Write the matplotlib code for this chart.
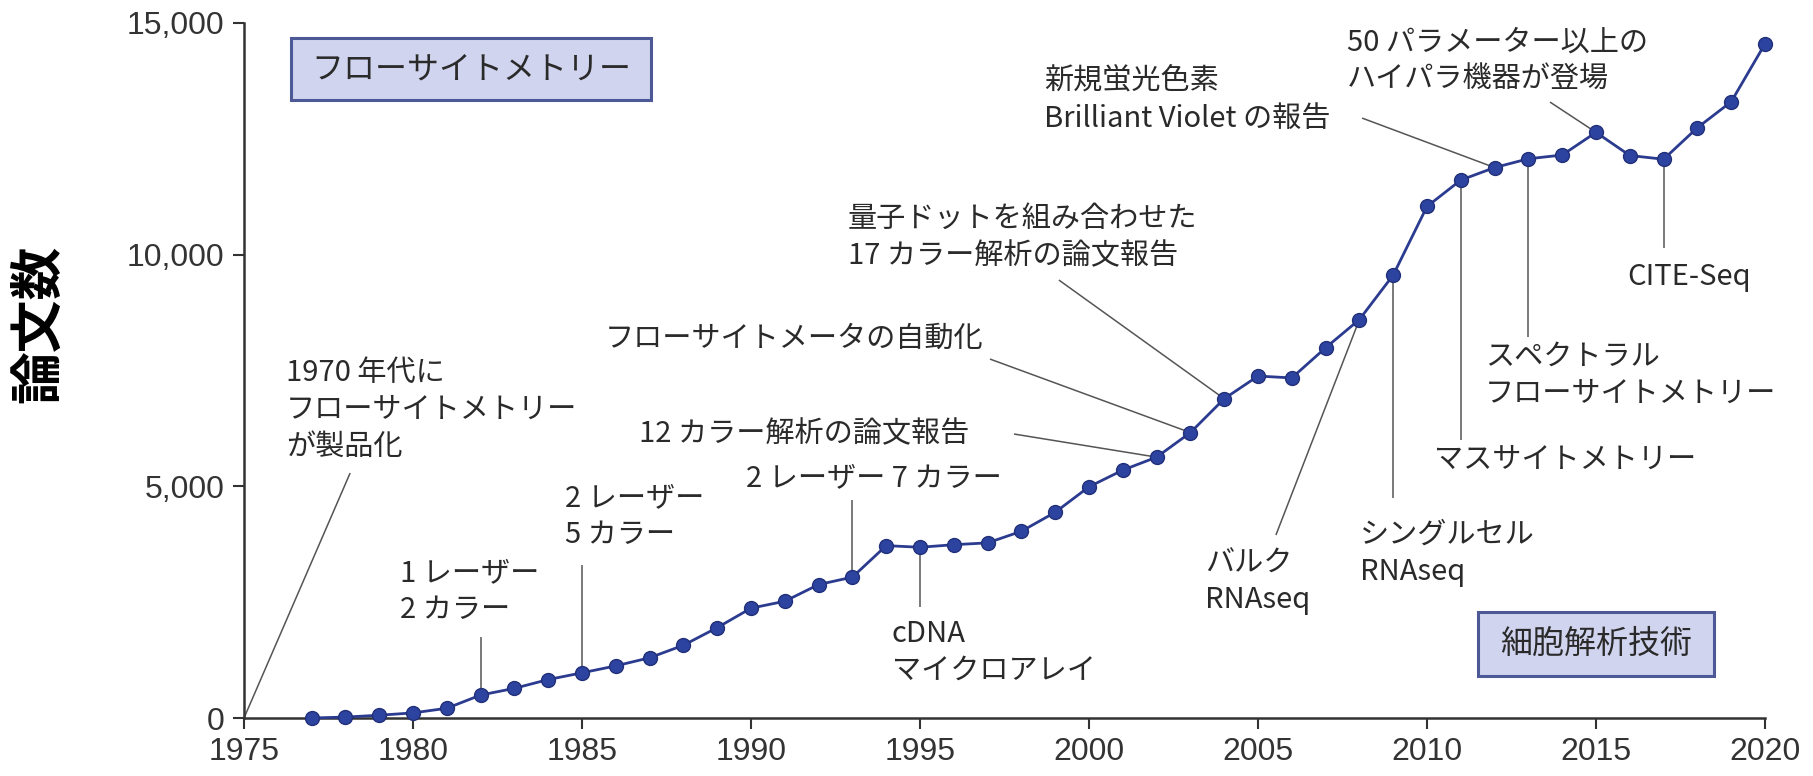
import matplotlib
matplotlib.use("Agg")
import matplotlib.pyplot as plt
from matplotlib import font_manager
from matplotlib.patches import Rectangle

# ---------------- data ----------------
years = list(range(1977, 2021))
papers = [0, 20, 60, 110, 210, 495, 640, 830, 975, 1125,
          1300, 1570, 1950, 2370, 2520, 2880, 3040, 3720, 3685, 3740,
          3780, 4030, 4440, 4990, 5350, 5630, 6160, 6890, 7380, 7340,
          7990, 8600, 9560, 11040, 11610, 11880, 12070, 12150, 12640, 12140,
          12060, 12740, 13300, 14550]

x_ticks = [1975, 1980, 1985, 1990, 1995, 2000, 2005, 2010, 2015, 2020]
y_ticks = [0, 5000, 10000, 15000]
y_tick_labels = ["0", "5,000", "10,000", "15,000"]

y_label = "論文数"
box_labels = ["フローサイトメトリー", "細胞解析技術"]

event_labels = [
    "1970 年代に\nフローサイトメトリー\nが製品化",
    "1 レーザー\n2 カラー",
    "2 レーザー\n5 カラー",
    "2 レーザー 7 カラー",
    "cDNA\nマイクロアレイ",
    "12 カラー解析の論文報告",
    "フローサイトメータの自動化",
    "量子ドットを組み合わせた\n17 カラー解析の論文報告",
    "新規蛍光色素\nBrilliant Violet の報告",
    "50 パラメーター以上の\nハイパラ機器が登場",
    "CITE-Seq",
    "スペクトラル\nフローサイトメトリー",
    "マスサイトメトリー",
    "シングルセル\nRNAseq",
    "バルク\nRNAseq",
]
event_years = [1975, 1982, 1985, 1993, 1995, 2002, 2003, 2004,
               2012, 2015, 2017, 2013, 2011, 2009, 2008]

# ---------------- layout (text anchor, leader-line end) ----------------
text_pos = [
    (1976.24, 6650), (1979.62, 2719), (1984.5, 4338), (1989.85, 5179),
    (1994.17, 1424), (1986.69, 6129), (1985.68, 8179), (1992.87, 10369),
    (1998.67, 13336), (2007.63, 14178), (2015.92, 9517), (2011.72, 7402),
    (2010.21, 5568), (2008.02, 3550), (2003.43, 2935),
]
line_end = [
    (1978.14, 5287), (1982, 1748), (1985, 3302), (1993, 4704),
    (1995, 2395), (1997.78, 6129), (1997.07, 7747), (1999.11, 9452),
    (2008.08, 12948), (2013.64, 13293), (2017, 10143), (2013, 8222),
    (2011, 5999), (2009, 4748), (2005.53, 3949),
]

# ---------------- fonts ----------------
available = {f.name for f in font_manager.fontManager.ttflist}
num_font = "Liberation Sans Narrow" if "Liberation Sans Narrow" in available else "Liberation Sans"
jp_font = ["Noto Sans CJK JP", "DejaVu Sans"]

line_color = "#2b3b8f"
text_color = "#2a2a2a"
axis_color = "#333333"
leader_color = "#555555"

fig = plt.figure(figsize=(18.13, 7.76), dpi=100)
fig.patch.set_facecolor("white")
ax = fig.add_axes([244 / 1813, 58 / 776, 1521 / 1813, 695 / 776])
ax.set_facecolor("white")

# leader lines
for (ey, (ex2, ev2)) in zip(event_years, line_end):
    ev = 0 if ey < years[0] else papers[years.index(ey)]
    ax.plot([ey, ex2], [ev, ev2], color=leader_color, lw=1.1, zorder=2,
            solid_capstyle="butt", clip_on=False)

# main series
ax.plot(years, papers, color=line_color, lw=2.0, marker="o", ms=10,
        markerfacecolor="#2c43a0", markeredgecolor="#22307a", markeredgewidth=1.0,
        zorder=3, clip_on=False)

# event labels
for lab, (tx, tv) in zip(event_labels, text_pos):
    ax.text(tx, tv, lab, fontsize=21, family=jp_font, color=text_color,
            ha="left", va="center", linespacing=1.3, zorder=4)

# boxes
box_specs = [((0.0309, 0.889), 0.2367, 0.089), ((0.8113, 0.0604), 0.1552, 0.0921)]
for lab, ((bx, by), bw, bh) in zip(box_labels, box_specs):
    ax.add_patch(Rectangle((bx, by), bw, bh, transform=ax.transAxes,
                           facecolor="#d0d4ee", edgecolor="#4d5896", lw=2.2, zorder=4))
    ax.text(bx + bw / 2, by + bh / 2, lab, transform=ax.transAxes,
            fontsize=23, family=jp_font, color=text_color,
            ha="center", va="center", zorder=5)

# axes styling
ax.set_xlim(1975, 2020)
ax.set_ylim(0, 15000)
for s in ["top", "right"]:
    ax.spines[s].set_visible(False)
for s in ["left", "bottom"]:
    ax.spines[s].set_color(axis_color)
    ax.spines[s].set_linewidth(1.8)

ax.set_xticks(x_ticks)
ax.set_xticklabels([str(t) for t in x_ticks])
ax.set_yticks(y_ticks)
ax.set_yticklabels(y_tick_labels)
ax.tick_params(axis="both", direction="out", length=8, width=1.5, colors=axis_color)
ax.tick_params(axis="x", pad=6)
ax.tick_params(axis="y", pad=6)
for lbl in ax.get_xticklabels() + ax.get_yticklabels():
    lbl.set_fontfamily(num_font)
    lbl.set_fontsize(23)
    lbl.set_color(axis_color)

fig.text(39 / 1813, 1 - 324 / 776, y_label, rotation=90, fontsize=38,
         family=jp_font, weight="bold", color="black", ha="center", va="center")

fig.savefig("out.png", dpi=100, facecolor="white")
